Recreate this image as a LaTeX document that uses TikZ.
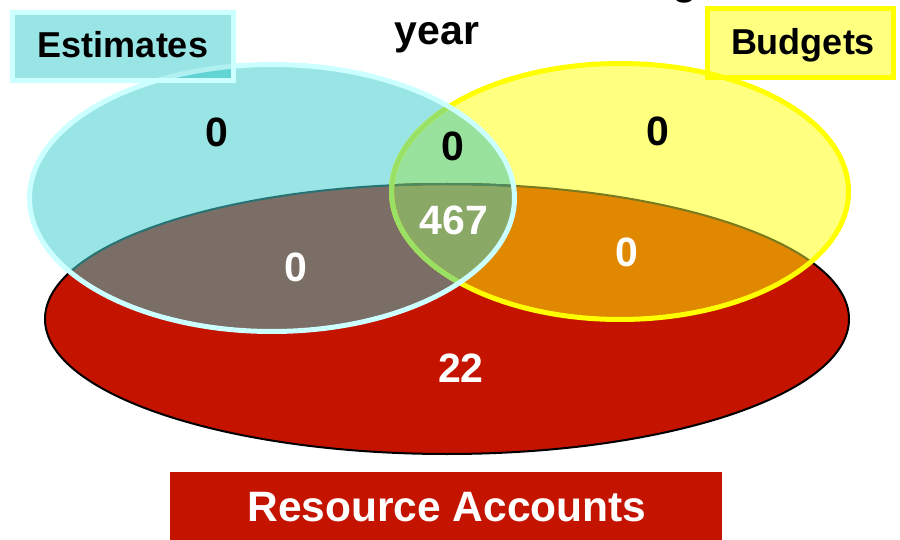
\documentclass[tikz,border=0pt]{standalone}
\usepackage{fontspec}
\setmainfont{Liberation Sans}
\begin{document}
\definecolor{estfill}{HTML}{99E5E5}
\definecolor{estline}{HTML}{CCFFFF}
\definecolor{estdeep}{HTML}{62D4D4}
\definecolor{estmid}{HTML}{B0F0F0}
\definecolor{budfill}{HTML}{FFFF80}
\definecolor{budline}{HTML}{FFFF00}
\definecolor{resfill}{HTML}{C41400}
\definecolor{estres}{HTML}{7B6E66}
\definecolor{budres}{HTML}{E08800}
\definecolor{estbud}{HTML}{98E29E}
\definecolor{allthree}{HTML}{8AA866}
\definecolor{budlineinest}{HTML}{99E066}
\definecolor{reslineinest}{HTML}{267373}
\definecolor{reslineinbud}{HTML}{7A7A1E}
\definecolor{reslineinboth}{HTML}{4E8A5E}
\begin{tikzpicture}[x=1pt,y=-1pt,
  bigtext/.style={font=\fontsize{41}{49}\selectfont\bfseries, inner sep=0pt, anchor=base},
  labeltext/.style={font=\fontsize{36}{43}\selectfont\bfseries, inner sep=0pt, anchor=base},
  numdark/.style={bigtext, text=black},
  numlight/.style={bigtext, text=white}]
\clip (0,0) rectangle (900,540);
\fill[white] (0,0) rectangle (900,540);

\def\EstPath{(272,198) ellipse [x radius=242.5pt, y radius=133.5pt]}
\def\BudPath{(620,191.5) ellipse [x radius=228.5pt, y radius=128pt]}
\def\ResPath{(447,319) ellipse [x radius=402pt, y radius=135pt]}

% Resource Accounts set
\fill[resfill] \ResPath;
\draw[black, line width=2pt] \ResPath;

% Estimates and Budgets sets
\fill[estfill] \EstPath;
\fill[budfill] \BudPath;
\begin{scope}
  \clip \EstPath;
  \fill[estbud] \BudPath;
\end{scope}

% overlaps with Resource Accounts
\begin{scope}
  \clip \ResPath;
  \fill[estres] \EstPath;
  \fill[budres] \BudPath;
  \begin{scope}
    \clip \EstPath;
    \fill[allthree] \BudPath;
  \end{scope}
\end{scope}

% outline of Resource Accounts seen through the upper sets
\begin{scope}
  \clip \EstPath;
  \draw[reslineinest, line width=2pt] \ResPath;
\end{scope}
\begin{scope}
  \clip \BudPath;
  \draw[reslineinbud, line width=2pt] \ResPath;
\end{scope}
\begin{scope}
  \clip \EstPath;
  \clip \BudPath;
  \draw[reslineinboth, line width=2pt] \ResPath;
\end{scope}

% outlines of Budgets and Estimates
\draw[budline, line width=5pt] \BudPath;
\begin{scope}
  \clip \EstPath;
  \draw[budlineinest, line width=5pt] \BudPath;
\end{scope}
\draw[estline, line width=5pt] \EstPath;

% Estimates label box
\fill[estfill] (12.5,12.5) rectangle (233.5,80.5);
\begin{scope}
  \clip (12.5,12.5) rectangle (233.5,80.5);
  \fill[estdeep] \EstPath;
  \draw[estmid, line width=5pt] \EstPath;
\end{scope}
\draw[estline, line width=5pt] (12.5,12.5) rectangle (233.5,80.5);
\node[labeltext] (est) at (123,58) {Estimates};

% Budgets label box
\fill[budfill] (707.5,8.5) rectangle (893.5,77.5);
\begin{scope}
  \clip (707.5,8.5) rectangle (893.5,77.5);
  \draw[budline, line width=5pt] \BudPath;
\end{scope}
\draw[budline, line width=5pt] (707.5,8.5) rectangle (893.5,77.5);
\node[labeltext] (bud) at (803,55) {Budgets};

% Resource Accounts label box
\fill[resfill] (170,472) rectangle (722,540);
\node[bigtext, font=\fontsize{42.5}{50}\selectfont\bfseries, text=white] (res) at (447,521) {Resource Accounts};

% heading, whose first line runs above the top edge
\node[bigtext] (headg) at (685,-5.5) {g};
\node[bigtext] (year) at (437,45) {year};

% counts
\node[numdark] (nE) at (217,147) {0};
\node[numdark] (nEB) at (453,161) {0};
\node[numdark] (nB) at (658,146) {0};
\node[numlight] (nEBR) at (454,235) {467};
\node[numlight] (nER) at (296,282) {0};
\node[numlight] (nBR) at (627,267) {0};
\node[numlight] (nR) at (461,382) {22};
\end{tikzpicture}
\end{document}
